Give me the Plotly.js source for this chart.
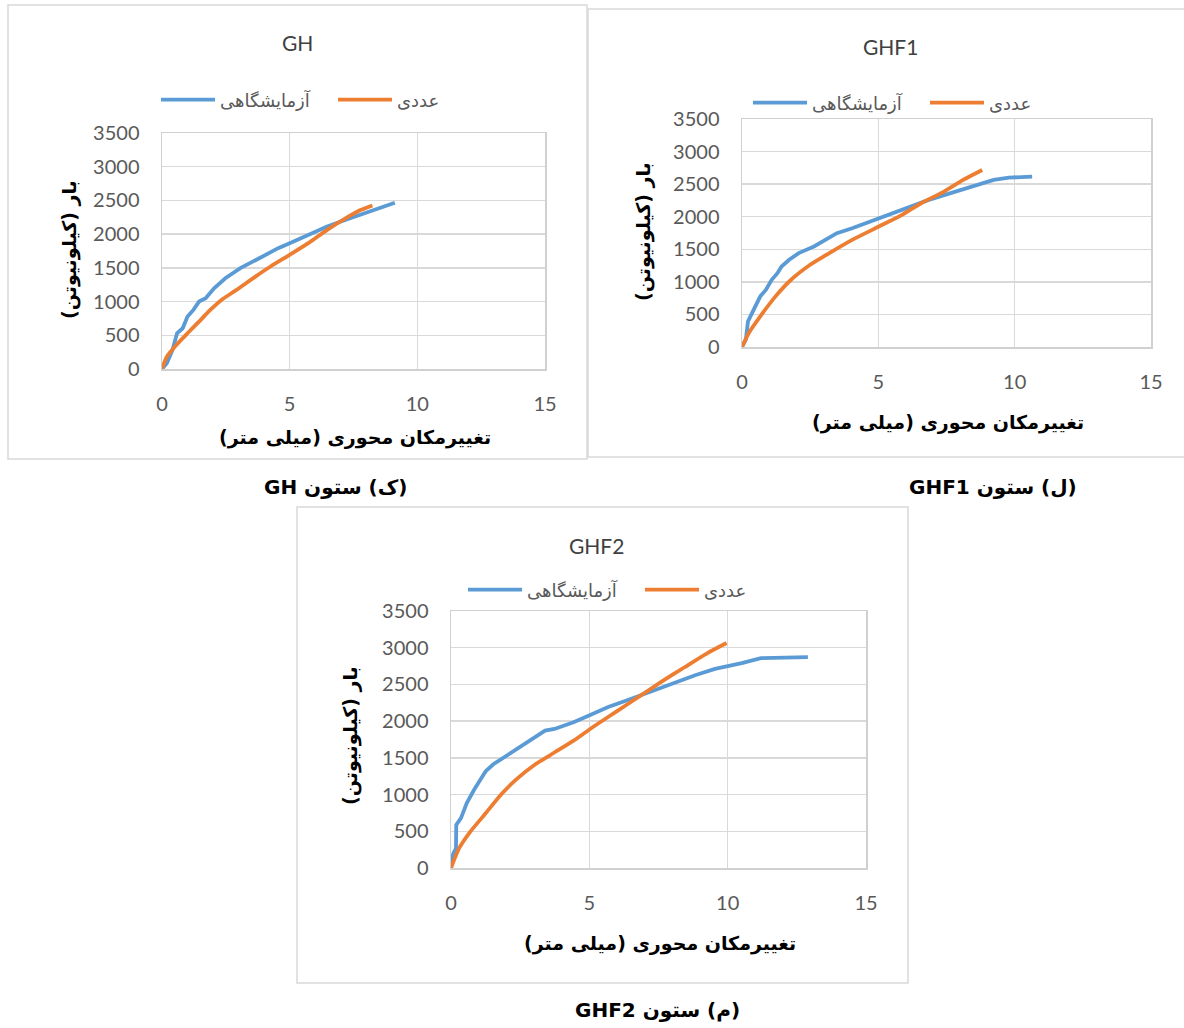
<!DOCTYPE html>
<html>
<head>
<meta charset="utf-8">
<script src="https://cdn.plot.ly/plotly-3.0.1.min.js"></script>
<style>html,body{margin:0;padding:0;background:#fff;}#chart{width:1184px;height:1028px;}</style>
</head>
<body>
<div id="chart"></div>
<script>
// ---- Data ----
const seriesNames = ["آزمایشگاهی", "عددی"];
const panelTitles = ["GH", "GHF1", "GHF2"];
const captions = ["(ک) ستون GH", "(ل) ستون GHF1", "(م) ستون GHF2"];
const xTitle = "تغییرمکان محوری (میلی متر)";
const yTitle = "بار (کیلونیوتن)";

// GH
const ghExpX = [0, 0.19, 0.41, 0.59, 0.81, 1.0, 1.23, 1.45, 1.71, 2.04, 2.48, 3.07, 3.81, 4.55, 5.0, 5.73, 6.47, 7.2, 8.09, 8.68, 9.12];
const ghExpY = [0, 84, 282, 530, 604, 777, 876, 1000, 1049, 1198, 1346, 1495, 1643, 1792, 1866, 1990, 2114, 2213, 2336, 2411, 2465];
const ghNumX = [0, 0.19, 0.56, 1.0, 1.45, 1.89, 2.33, 2.92, 3.66, 4.25, 5.0, 5.73, 6.47, 7.2, 7.8, 8.24];
const ghNumY = [0, 183, 356, 530, 703, 876, 1025, 1173, 1371, 1520, 1693, 1866, 2064, 2237, 2361, 2426];

// GHF1
const ghf1ExpX = [0, 0.14, 0.22, 0.39, 0.53, 0.67, 0.88, 1.09, 1.30, 1.45, 1.73, 2.08, 2.64, 3.2, 3.48, 4.04, 5.02, 5.87, 6.85, 7.83, 8.81, 9.23, 9.79, 10.64];
const ghf1ExpY = [0, 112, 393, 547, 649, 777, 879, 1032, 1134, 1236, 1339, 1441, 1543, 1671, 1747, 1824, 1977, 2105, 2258, 2386, 2514, 2565, 2600, 2616];
const ghf1NumX = [0, 0.25, 0.67, 1.23, 1.80, 2.50, 3.2, 4.04, 5.02, 5.87, 6.57, 7.41, 8.11, 8.81];
const ghf1NumY = [0, 215, 470, 777, 1032, 1262, 1441, 1645, 1849, 2028, 2207, 2386, 2565, 2718];

// GHF2
const ghf2ExpX = [0, 0.08, 0.18, 0.19, 0.36, 0.57, 0.84, 1.12, 1.26, 1.53, 2.09, 2.50, 2.91, 3.40, 3.74, 4.43, 4.99, 5.68, 6.37, 7.2, 8.02, 8.85, 9.54, 10.51, 11.2, 12.03, 12.9];
const ghf2ExpY = [0, 197, 266, 587, 679, 885, 1069, 1252, 1321, 1413, 1550, 1665, 1757, 1871, 1894, 1986, 2078, 2193, 2284, 2399, 2514, 2628, 2711, 2789, 2858, 2867, 2871];
const ghf2NumX = [0, 0.29, 0.70, 1.26, 1.81, 2.36, 3.05, 3.74, 4.43, 5.12, 5.95, 6.78, 7.61, 8.44, 9.27, 9.96];
const ghf2NumY = [0, 266, 495, 748, 1000, 1206, 1413, 1573, 1734, 1917, 2124, 2330, 2537, 2734, 2927, 3064];

const xTickVals = [0, 5, 10, 15];
const yTickVals = [0, 500, 1000, 1500, 2000, 2500, 3000, 3500];

// ---- Styling / layout ----
const BLUE = "#5B9BD5", ORANGE = "#ED7D31";
const W = 1184, H = 1028;
const px = v => v / W, py = v => 1 - v / H;
const RLE = "\u202B", PDF = "\u202C";
const rtl = s => RLE + s + PDF;

const tickFont = {family: "Lato, 'Open Sans', sans-serif", size: 20, color: "#595959"};

// plot-area pixel boxes
const boxes = [
  {x0: 162, x1: 545, yb: 369, yt: 133},
  {x0: 742, x1: 1151, yb: 347, yt: 119},
  {x0: 451, x1: 866, yb: 868, yt: 611}
];
const frames = [
  {l: 8, r: 587, t: 5, b: 459},
  {l: 588, r: 1200, t: 9, b: 457},
  {l: 297, r: 908, t: 507, b: 983}
];
const titlePos = [[297, 43], [890, 47], [596, 545]];
const legendPos = [[156, 100], [748, 103], [463, 590]];
const yTitlePos = [[69, 250], [644, 232], [350, 736]];
const xTitlePos = [[355, 437], [948, 422], [660, 943]];
const captionPos = [[335, 487], [993, 487], [657, 1010]];

const expX = [ghExpX, ghf1ExpX, ghf2ExpX];
const expY = [ghExpY, ghf1ExpY, ghf2ExpY];
const numX = [ghNumX, ghf1NumX, ghf2NumX];
const numY = [ghNumY, ghf1NumY, ghf2NumY];

const traces = [];
const layout = {
  width: W, height: H,
  margin: {l: 0, r: 0, t: 0, b: 0},
  paper_bgcolor: "#fff", plot_bgcolor: "#fff",
  showlegend: true,
  shapes: [], annotations: []
};

for (let i = 0; i < 3; i++) {
  const sfx = i === 0 ? "" : String(i + 1);
  const legName = "legend" + sfx;
  traces.push({
    x: expX[i], y: expY[i], type: "scatter", mode: "lines", name: seriesNames[0],
    line: {color: BLUE, width: 3.8}, xaxis: "x" + sfx, yaxis: "y" + sfx, legend: legName
  });
  traces.push({
    x: numX[i], y: numY[i], type: "scatter", mode: "lines", name: seriesNames[1],
    line: {color: ORANGE, width: 3.8, shape: "spline", smoothing: 0.6},
    xaxis: "x" + sfx, yaxis: "y" + sfx, legend: legName
  });
  const b = boxes[i];
  layout["xaxis" + sfx] = {
    domain: [px(b.x0), px(b.x1)], anchor: "y" + sfx, range: [0, 15],
    tickvals: xTickVals, ticks: "", showgrid: true, gridcolor: "#d9d9d9", gridwidth: 1.3,
    zeroline: false, showline: true, linecolor: "#d0d0d0", linewidth: 1.5, mirror: true,
    tickfont: tickFont, ticklabelstandoff: 16, fixedrange: true
  };
  layout["yaxis" + sfx] = {
    domain: [py(b.yb), py(b.yt)], anchor: "x" + sfx, range: [0, 3500],
    tickvals: yTickVals, ticks: "", showgrid: true, gridcolor: "#d9d9d9", gridwidth: 1.3,
    zeroline: false, showline: true, linecolor: "#d0d0d0", linewidth: 1.5, mirror: true,
    tickfont: tickFont, ticklabelstandoff: 17, fixedrange: true
  };
  layout[legName] = {
    orientation: "h", x: px(legendPos[i][0]), y: py(legendPos[i][1]),
    xanchor: "left", yanchor: "middle", bgcolor: "rgba(0,0,0,0)",
    font: {family: "'DejaVu Sans', sans-serif", size: 18, color: "#595959"},
    itemwidth: 54, tracegroupgap: 0, entrywidth: 108, entrywidthmode: "pixels"
  };
  const f = frames[i];
  layout.shapes.push({
    type: "rect", xref: "paper", yref: "paper",
    x0: px(f.l), x1: px(f.r), y0: py(f.b), y1: py(f.t),
    line: {color: "#d9d9d9", width: 1.5}, layer: "below"
  });
  layout.annotations.push({
    text: panelTitles[i], xref: "paper", yref: "paper",
    x: px(titlePos[i][0]), y: py(titlePos[i][1]), xanchor: "center", yanchor: "middle",
    showarrow: false, font: {family: "Lato, 'Open Sans', sans-serif", size: 21, color: "#404040"}
  });
  layout.annotations.push({
    text: rtl(yTitle), xref: "paper", yref: "paper", textangle: -90,
    x: px(yTitlePos[i][0]), y: py(yTitlePos[i][1]), xanchor: "center", yanchor: "middle",
    showarrow: false, font: {family: "'DejaVu Sans', sans-serif", size: 19, color: "#000", weight: "bold"}
  });
  layout.annotations.push({
    text: rtl(xTitle), xref: "paper", yref: "paper",
    x: px(xTitlePos[i][0]), y: py(xTitlePos[i][1]), xanchor: "center", yanchor: "middle",
    showarrow: false, font: {family: "'DejaVu Sans', sans-serif", size: 19, color: "#000", weight: "bold"}
  });
  layout.annotations.push({
    text: rtl(captions[i]), xref: "paper", yref: "paper",
    x: px(captionPos[i][0]), y: py(captionPos[i][1]), xanchor: "center", yanchor: "middle",
    showarrow: false, font: {family: "'DejaVu Sans', sans-serif", size: 20, color: "#000", weight: "bold"}
  });
}

Plotly.newPlot("chart", traces, layout, {staticPlot: true, displayModeBar: false});
</script>
</body>
</html>
